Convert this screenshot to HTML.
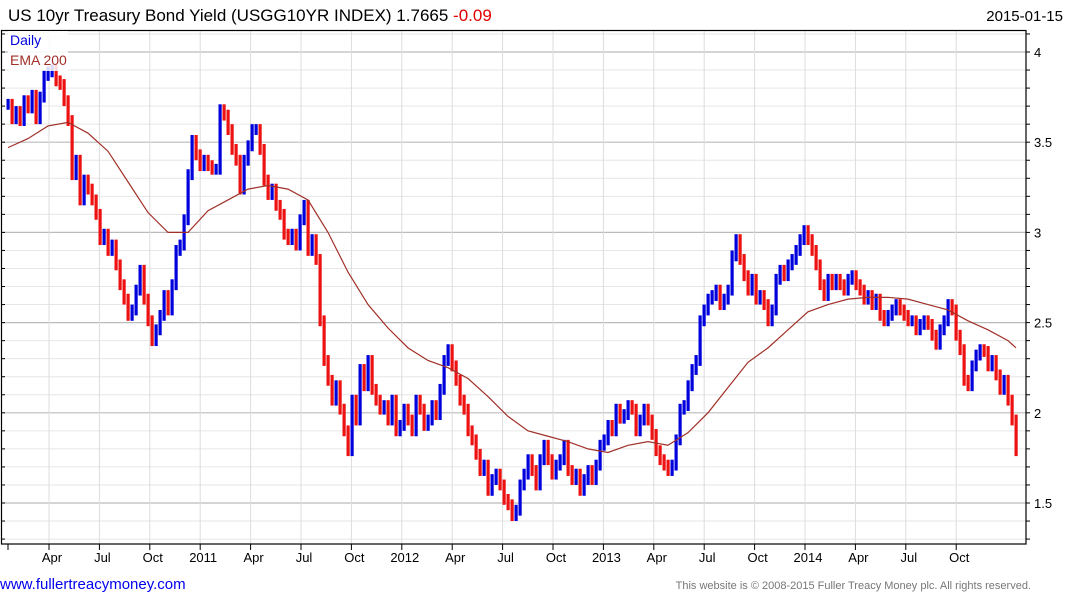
<!DOCTYPE html>
<html><head><meta charset="utf-8"><style>
body{margin:0;background:#fff;width:1075px;height:600px;overflow:hidden;font-family:"Liberation Sans",Arial,sans-serif}
svg{display:block}
</style></head><body>
<svg id="chart" width="1075" height="600" font-family="Liberation Sans, Arial, sans-serif">
<text x="8" y="21" font-size="17" fill="#000">US 10yr Treasury Bond Yield (USGG10YR INDEX) 1.7665 <tspan fill="#e00000">-0.09</tspan></text>
<text x="1063" y="21" font-size="15" fill="#000" text-anchor="end">2015-01-15</text>
<g id="grid"></g>
<g id="series"></g>
<g id="ema"></g>
<rect x="1.5" y="30.5" width="1024.5" height="513.5" fill="none" stroke="#000" stroke-width="1.2"/>
<g id="axes"></g>
<rect x="8" y="31" width="60" height="40" fill="#fff" opacity="0.85"/>
<text x="10" y="45" font-size="14" fill="#0000dd">Daily</text>
<text x="10" y="65" font-size="14" fill="#a03028">EMA 200</text>
<text x="0" y="589" font-size="15" fill="#0000ee">www.fullertreacymoney.com</text>
<text x="1031" y="589" font-size="11" fill="#777" text-anchor="end">This website is © 2008-2015 Fuller Treacy Money plc. All rights reserved.</text>
</svg>
<script>
const closes=[3.71,3.63,3.67,3.62,3.73,3.69,3.76,3.63,3.75,3.87,3.89,3.90,3.84,3.82,3.73,3.62,3.32,3.40,3.18,3.29,3.24,3.18,3.10,2.96,2.99,2.90,2.93,2.82,2.71,2.63,2.54,2.57,2.68,2.79,2.63,2.51,2.40,2.46,2.54,2.65,2.57,2.71,2.90,2.93,3.07,3.32,3.51,3.43,3.37,3.40,3.37,3.35,3.35,3.68,3.65,3.57,3.46,3.40,3.24,3.40,3.48,3.57,3.57,3.46,3.29,3.21,3.24,3.15,3.10,2.99,2.96,2.99,2.93,3.07,3.15,2.90,2.96,2.85,2.51,2.29,2.18,2.07,2.15,2.02,1.90,1.79,2.07,1.96,2.24,2.15,2.29,2.13,2.07,2.02,2.04,1.96,2.07,1.90,1.93,2.02,1.96,1.90,2.07,2.02,1.93,1.96,2.04,1.99,2.13,2.29,2.35,2.26,2.18,2.07,2.02,1.90,1.85,1.77,1.68,1.71,1.57,1.63,1.66,1.60,1.52,1.49,1.43,1.46,1.60,1.66,1.74,1.68,1.60,1.74,1.82,1.74,1.66,1.71,1.74,1.82,1.68,1.63,1.66,1.57,1.63,1.68,1.63,1.71,1.82,1.85,1.93,1.90,2.02,1.97,1.99,2.04,2.02,1.90,1.96,2.02,1.96,1.88,1.79,1.74,1.71,1.68,1.71,1.85,2.02,2.04,2.15,2.24,2.29,2.51,2.57,2.63,2.65,2.68,2.60,2.63,2.68,2.87,2.96,2.85,2.76,2.68,2.74,2.63,2.65,2.60,2.51,2.57,2.74,2.79,2.76,2.82,2.85,2.90,2.96,3.01,2.96,2.90,2.82,2.71,2.65,2.74,2.71,2.74,2.71,2.68,2.74,2.76,2.71,2.68,2.63,2.65,2.60,2.63,2.54,2.51,2.54,2.57,2.60,2.57,2.54,2.51,2.51,2.46,2.49,2.51,2.49,2.43,2.38,2.46,2.51,2.60,2.57,2.43,2.35,2.18,2.15,2.26,2.32,2.35,2.34,2.26,2.29,2.21,2.13,2.18,2.07,1.96,1.79];
const emaWeeks=[0,5,10,15,20,25,30,35,40,45,50,55,60,65,70,75,80,85,90,95,100,105,110,115,120,125,130,135,140,145,150,155,160,165,170,175,180,185,190,195,200,205,210,215,220,225,230,235,240,245,250,252];
const emaValues=[3.47,3.52,3.59,3.61,3.55,3.45,3.28,3.11,3.00,3.00,3.12,3.18,3.24,3.26,3.24,3.18,3.00,2.78,2.60,2.47,2.36,2.29,2.25,2.19,2.09,1.98,1.90,1.87,1.84,1.80,1.78,1.82,1.84,1.82,1.89,2.00,2.14,2.28,2.36,2.46,2.56,2.60,2.63,2.64,2.64,2.63,2.60,2.57,2.51,2.46,2.40,2.36];
const quarterLabels=["Apr","Jul","Oct","2011","Apr","Jul","Oct","2012","Apr","Jul","Oct","2013","Apr","Jul","Oct","2014","Apr","Jul","Oct"];
const yTicks=[1.5,2,2.5,3,3.5,4];
const yTickLabels=["1.5","2","2.5","3","3.5","4"];

const NS="http://www.w3.org/2000/svg";
function yS(v){return 52+(4-v)*180.4;}
function xW(i){return 8+i*4;}
function xQ(q){return 49+q*50.4;}
function mk(tag,attrs,parent){const e=document.createElementNS(NS,tag);for(const k in attrs)e.setAttribute(k,attrs[k]);parent.appendChild(e);return e;}
const grid=document.getElementById('grid'),axes=document.getElementById('axes'),series=document.getElementById('series'),emaG=document.getElementById('ema');
for(let k=13;k<=42;k++){const v=k/10;const y=yS(v);if(y<31||y>543)continue;
 const major=(k%5===0);
 const l=mk('line',{x1:2,x2:1026,y1:y,y2:y,stroke:major?'#bbb':'#e6e6e6','stroke-width':major?1.2:1},grid);
 
 
 const t=mk('line',{x1:1026,x2:1030,y1:y,y2:y,stroke:'#000'},axes);
 
 
 const t2=mk('line',{x1:2,x2:5,y1:y,y2:y,stroke:'#000'},axes);
 
 
}
yTicks.forEach((v,i)=>{const t=mk('text',{x:1034,y:yS(v)+5,'font-size':13,fill:'#000'},axes);t.textContent=yTickLabels[i];
 
 });
const t0=mk('line',{x1:8,x2:8,y1:544,y2:550,stroke:'#000'},axes);


quarterLabels.forEach((lab,q)=>{const x=xQ(q);
 const l=mk('line',{x1:x,x2:x,y1:31,y2:544,stroke:'#ddd'},grid);
 
 
 const t=mk('line',{x1:x,x2:x,y1:544,y2:550,stroke:'#000'},axes);
 
 
 const tx=mk('text',{x:x+3,y:562,'font-size':13,'text-anchor':'middle',fill:'#000'},axes);tx.textContent=lab;
 
 
});
closes.forEach((c,i)=>{const p=i>0?closes[i-1]:c;const up=c>=p;
 const hi=Math.max(c,p)+0.03,lo=Math.min(c,p)-0.03;const x=xW(i);
 const r=mk('rect',{x:x-1.5,y:yS(hi),width:3.2,height:yS(lo)-yS(hi),fill:up?'#0000dd':'#ee1111'},series);
 
 
});
const pts=emaWeeks.map((w,i)=>xW(w)+','+yS(emaValues[i])).join(' ');
const pl=mk('polyline',{points:pts,fill:'none',stroke:'#a03028','stroke-width':1.2},emaG);


</script>
</body></html>
